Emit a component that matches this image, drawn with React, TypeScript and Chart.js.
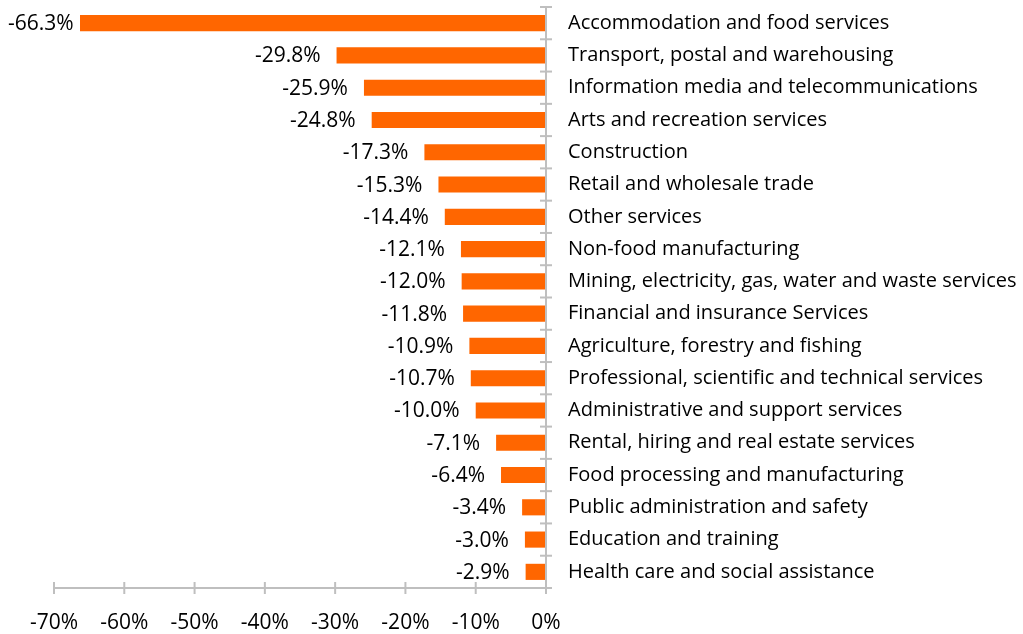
import React, { useEffect, useRef } from "react";
import { Chart, registerables } from "chart.js";

Chart.register(...registerables);

const categories = [
  "Accommodation and food services",
  "Transport, postal and warehousing",
  "Information media and telecommunications",
  "Arts and recreation services",
  "Construction",
  "Retail and wholesale trade",
  "Other services",
  "Non-food manufacturing",
  "Mining, electricity, gas, water and waste services",
  "Financial and insurance Services",
  "Agriculture, forestry and fishing",
  "Professional, scientific and technical services",
  "Administrative and support services",
  "Rental, hiring and real estate services",
  "Food processing and manufacturing",
  "Public administration and safety",
  "Education and training",
  "Health care and social assistance",
];

const changeValues = [
  -66.3, -29.8, -25.9, -24.8, -17.3, -15.3, -14.4, -12.1, -12.0, -11.8, -10.9,
  -10.7, -10.0, -7.1, -6.4, -3.4, -3.0, -2.9,
];

const xTickMin = -70;
const xTickMax = 0;
const xTickStep = 10;

const FONT = "'Open Sans', 'Noto Sans', sans-serif";
const CAT_FONT_SIZE = 20;
const NUM_FONT_SIZE = 21;
const AXIS_COLOR = "#BFBFBF";
const BAR_COLOR = "#FF6600";

const axesPlugin = {
  id: "customAxes",
  afterDatasetsDraw(chart: any) {
    const { ctx, chartArea, scales } = chart;
    const xs = scales.x;
    const ys = scales.y;
    ctx.save();
    ctx.strokeStyle = AXIS_COLOR;
    ctx.lineWidth = 2;
    const x0 = xs.getPixelForValue(0);
    ctx.beginPath();
    ctx.moveTo(x0, chartArea.top);
    ctx.lineTo(x0, chartArea.bottom);
    ctx.stroke();
    const n = categories.length;
    const band = (ys.getPixelForValue(n - 1) - ys.getPixelForValue(0)) / (n - 1);
    for (let i = 0; i <= n; i++) {
      const y = ys.getPixelForValue(i) - band / 2;
      ctx.beginPath();
      ctx.moveTo(x0 - 6, y);
      ctx.lineTo(x0 + 6, y);
      ctx.stroke();
    }
    const yb = chartArea.bottom;
    ctx.beginPath();
    ctx.moveTo(chartArea.left, yb);
    ctx.lineTo(chartArea.right, yb);
    ctx.stroke();
    for (let v = xTickMin; v <= xTickMax; v += xTickStep) {
      const x = xs.getPixelForValue(v);
      ctx.beginPath();
      ctx.moveTo(x, yb - 6);
      ctx.lineTo(x, yb + 6);
      ctx.stroke();
    }
    ctx.fillStyle = "#000000";
    ctx.font = `${NUM_FONT_SIZE}px ${FONT}`;
    ctx.textAlign = "right";
    ctx.textBaseline = "middle";
    changeValues.forEach((v, i) => {
      const txt = `${v.toFixed(1)}%`;
      const w = ctx.measureText(txt).width;
      let xr = xs.getPixelForValue(v) - 16;
      if (xr - w < 8) xr = 8 + w;
      ctx.fillText(txt, xr, ys.getPixelForValue(i) + 1);
    });
    ctx.restore();
  },
};

export default function App() {
  const ref = useRef<HTMLCanvasElement | null>(null);
  useEffect(() => {
    if (!ref.current) return;
    const chart = new Chart(ref.current, {
      type: "bar",
      data: {
        labels: categories,
        datasets: [
          {
            data: changeValues,
            backgroundColor: BAR_COLOR,
            borderWidth: 0,
            barPercentage: 0.5,
            categoryPercentage: 1,
          },
        ],
      },
      options: {
        indexAxis: "y",
        animation: false,
        responsive: true,
        maintainAspectRatio: false,
        layout: { padding: { left: 54, top: 7, right: 0, bottom: 0 } },
        plugins: {
          legend: { display: false },
          tooltip: { enabled: false },
        },
        scales: {
          x: {
            min: xTickMin,
            max: xTickMax,
            grid: { display: false },
            border: { display: false },
            ticks: {
              stepSize: xTickStep,
              color: "#000000",
              padding: 14,
              font: { family: FONT, size: NUM_FONT_SIZE },
              callback: (v: any) => `${v}%`,
              maxRotation: 0,
            },
            afterFit: (s: any) => {
              s.height = 46;
              s.paddingLeft = 0;
              s.paddingRight = 0;
            },
          },
          y: {
            position: "right",
            grid: { display: false },
            border: { display: false },
            ticks: {
              color: "#000000",
              padding: 14,
              font: { family: FONT, size: CAT_FONT_SIZE },
              autoSkip: false,
            },
            afterFit: (s: any) => {
              s.width = 477;
              s.paddingTop = 0;
              s.paddingBottom = 0;
            },
          },
        },
      },
      plugins: [axesPlugin],
    });
    return () => chart.destroy();
  }, []);
  return (
    <div style={{ position: "fixed", left: 0, top: 0, width: 1023, height: 634 }}>
      <canvas ref={ref} />
    </div>
  );
}
